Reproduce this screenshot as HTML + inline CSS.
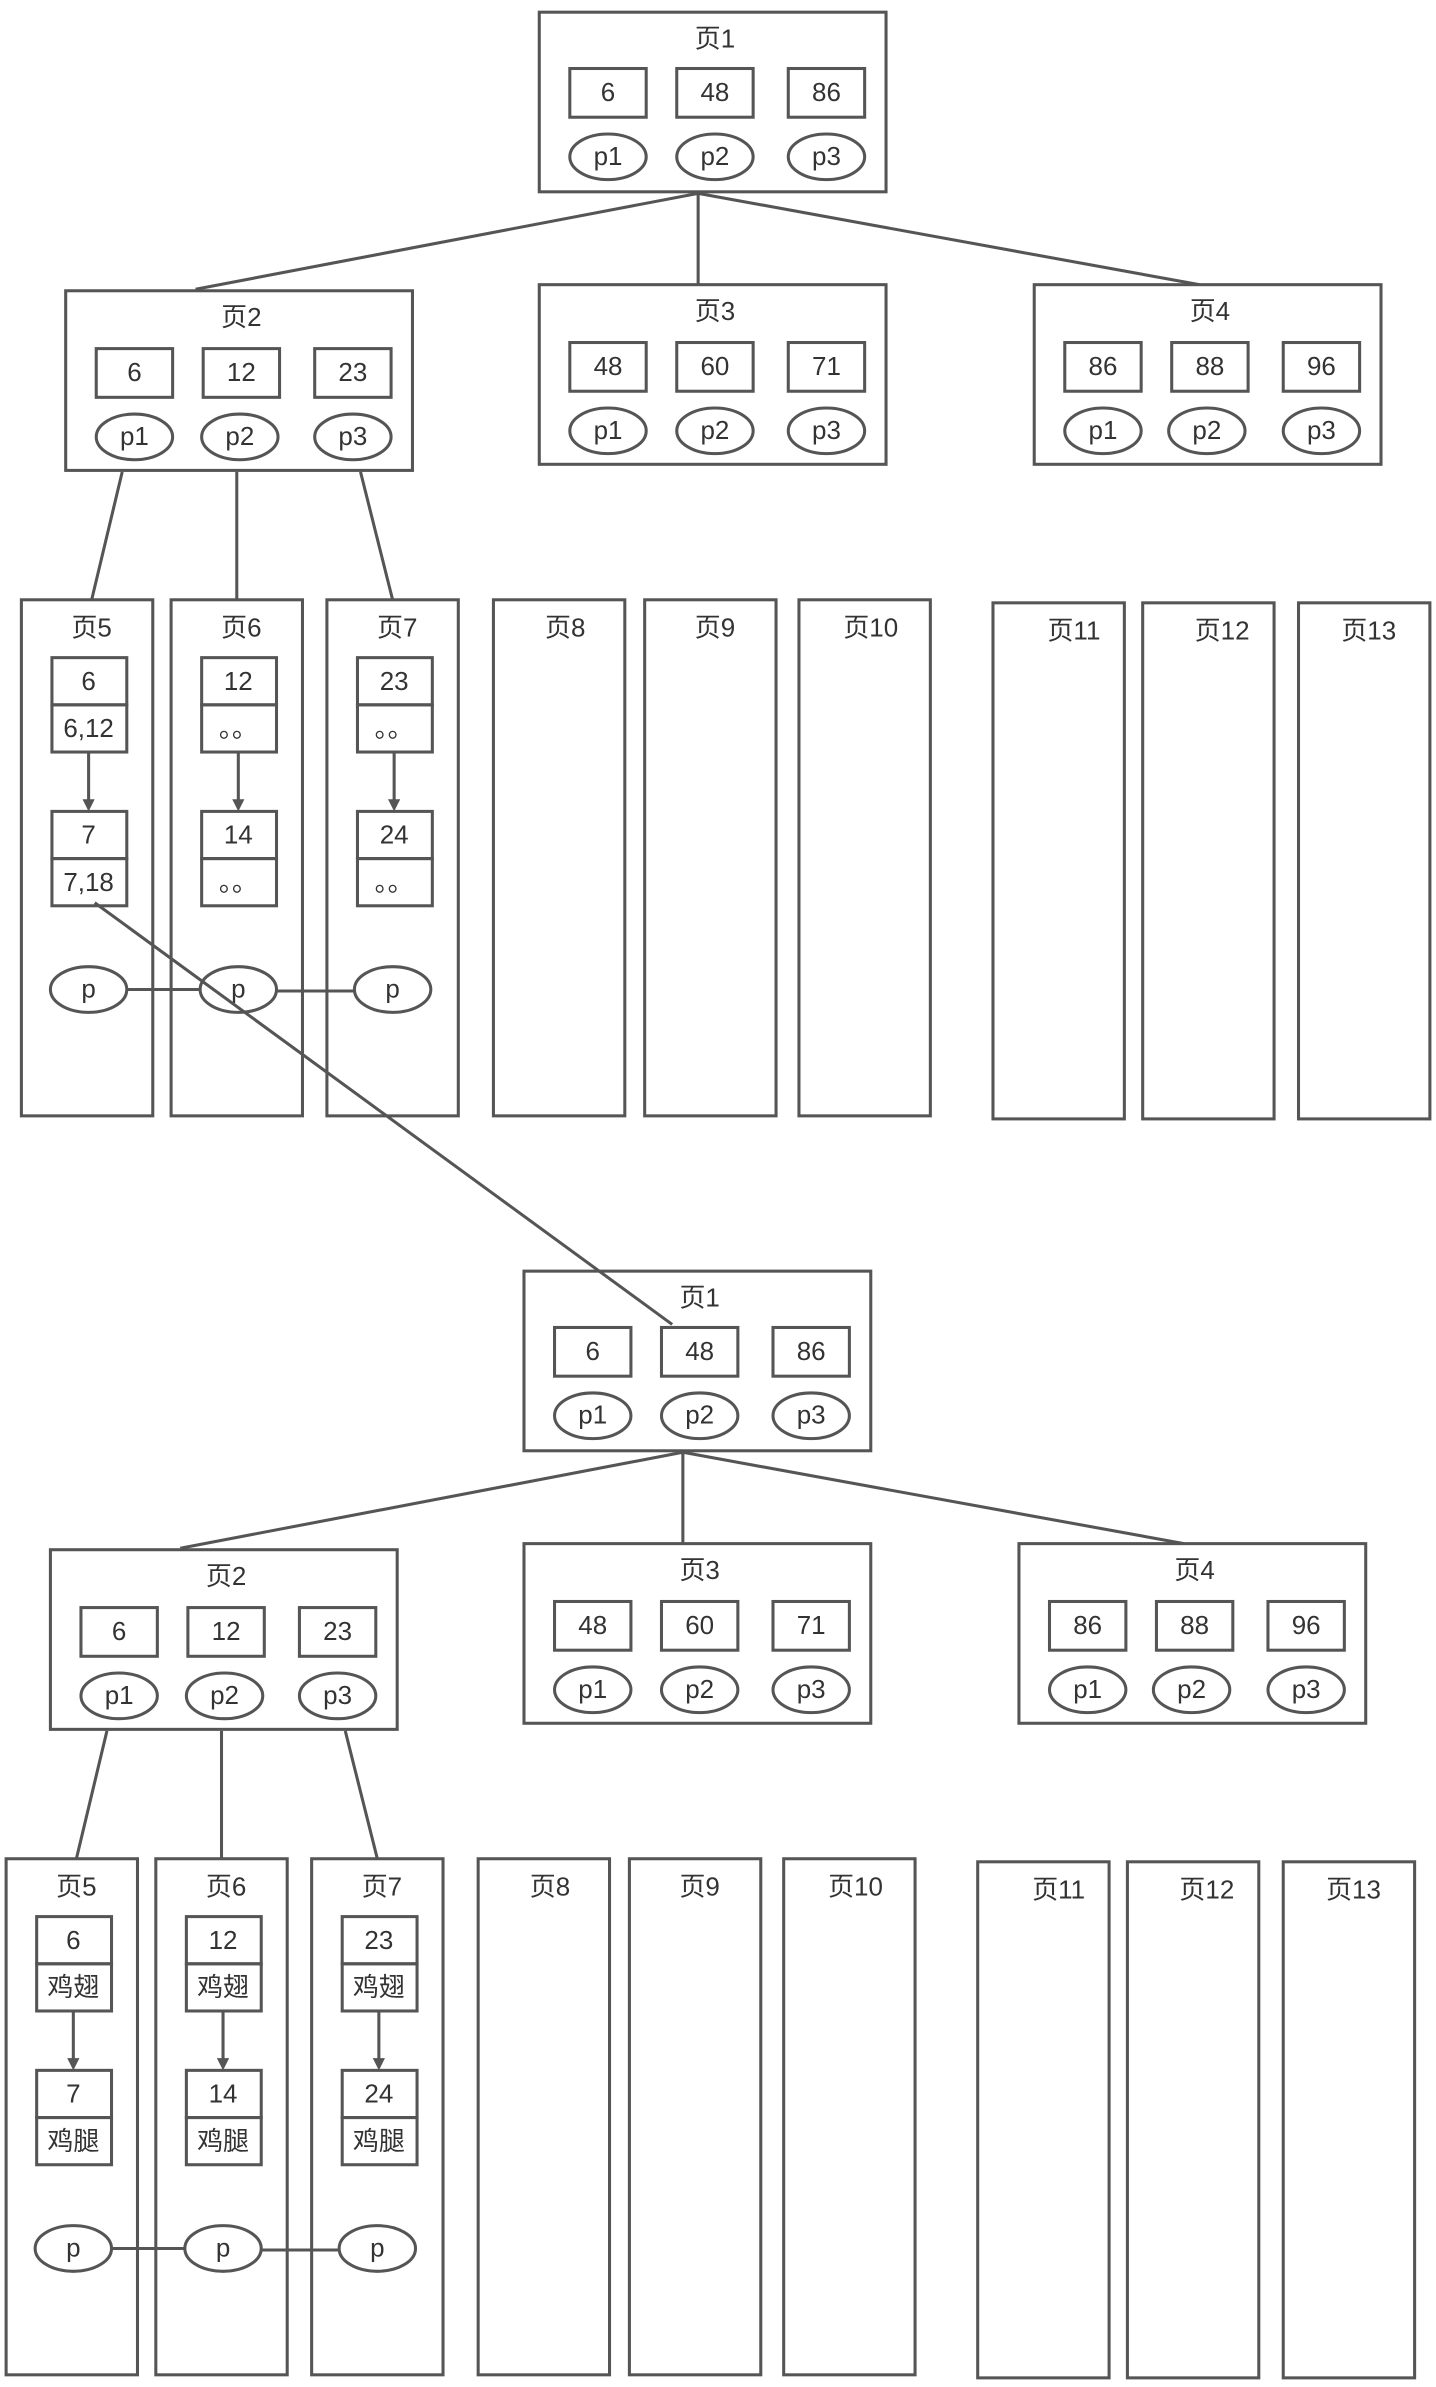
<!DOCTYPE html>
<html><head><meta charset="utf-8">
<style>
html,body{margin:0;padding:0;background:#fff;}
svg{display:block;}
text{font-family:"Liberation Sans","Noto Sans CJK SC",sans-serif;fill:#333;text-anchor:middle;dominant-baseline:central;}
</style></head><body>
<svg width="1436" height="2387" viewBox="0 0 940 1568" preserveAspectRatio="none" xmlns="http://www.w3.org/2000/svg">
<defs>
<marker id="ar" markerWidth="8" markerHeight="8" refX="6" refY="4" orient="auto" markerUnits="userSpaceOnUse">
<path d="M0,0 L8,4 L0,8 Z" fill="#555"/>
</marker>
</defs>
<g fill="none" stroke="#555" stroke-width="2" font-size="17">
<!-- TOP TREE -->
<g id="tree">
<line x1="457" y1="127" x2="128" y2="190"/>
<line x1="457" y1="127" x2="457" y2="187"/>
<line x1="457" y1="127" x2="785" y2="187"/>
<rect x="353" y="8" width="227" height="118" fill="#fff"/>
<rect x="373" y="45" width="50" height="32"/><rect x="443" y="45" width="50" height="32"/><rect x="516" y="45" width="50" height="32"/>
<ellipse cx="398" cy="103" rx="25" ry="15"/><ellipse cx="468" cy="103" rx="25" ry="15"/><ellipse cx="541" cy="103" rx="25" ry="15"/>

<rect x="43" y="191" width="227" height="118"/>
<rect x="63" y="229" width="50" height="32"/><rect x="133" y="229" width="50" height="32"/><rect x="206" y="229" width="50" height="32"/>
<ellipse cx="88" cy="287" rx="25" ry="15"/><ellipse cx="157" cy="287" rx="25" ry="15"/><ellipse cx="231" cy="287" rx="25" ry="15"/>

<rect x="353" y="187" width="227" height="118"/>
<rect x="373" y="225" width="50" height="32"/><rect x="443" y="225" width="50" height="32"/><rect x="516" y="225" width="50" height="32"/>
<ellipse cx="398" cy="283" rx="25" ry="15"/><ellipse cx="468" cy="283" rx="25" ry="15"/><ellipse cx="541" cy="283" rx="25" ry="15"/>

<rect x="677" y="187" width="227" height="118"/>
<rect x="697" y="225" width="50" height="32"/><rect x="767" y="225" width="50" height="32"/><rect x="840" y="225" width="50" height="32"/>
<ellipse cx="722" cy="283" rx="25" ry="15"/><ellipse cx="790" cy="283" rx="25" ry="15"/><ellipse cx="865" cy="283" rx="25" ry="15"/>

<line x1="80" y1="310" x2="60" y2="394"/>
<line x1="155" y1="310" x2="155" y2="394"/>
<line x1="236" y1="310" x2="257" y2="394"/>

<rect x="14" y="394" width="86" height="339"/>
<rect x="112" y="394" width="86" height="339"/>
<rect x="214" y="394" width="86" height="339"/>
<rect x="323" y="394" width="86" height="339"/>
<rect x="422" y="394" width="86" height="339"/>
<rect x="523" y="394" width="86" height="339"/>
<rect x="650" y="396" width="86" height="339"/>
<rect x="748" y="396" width="86" height="339"/>
<rect x="850" y="396" width="86" height="339"/>

<rect x="34" y="432" width="49" height="31"/><rect x="34" y="463" width="49" height="31"/>
<rect x="34" y="533" width="49" height="31"/><rect x="34" y="564" width="49" height="31"/>
<rect x="132" y="432" width="49" height="31"/><rect x="132" y="463" width="49" height="31"/>
<rect x="132" y="533" width="49" height="31"/><rect x="132" y="564" width="49" height="31"/>
<rect x="234" y="432" width="49" height="31"/><rect x="234" y="463" width="49" height="31"/>
<rect x="234" y="533" width="49" height="31"/><rect x="234" y="564" width="49" height="31"/>
<line x1="58" y1="494" x2="58" y2="531" marker-end="url(#ar)"/>
<line x1="156" y1="494" x2="156" y2="531" marker-end="url(#ar)"/>
<line x1="258" y1="494" x2="258" y2="531" marker-end="url(#ar)"/>
<ellipse cx="58" cy="650" rx="25" ry="15"/><ellipse cx="156" cy="650" rx="25" ry="15"/><ellipse cx="257" cy="650" rx="25" ry="15"/>
<line x1="83" y1="650" x2="131" y2="650"/><line x1="181" y1="651" x2="232" y2="651"/>
</g>
<g stroke="none" fill="#333">
<text x="468" y="26">页1</text>
<text x="398" y="61">6</text><text x="468" y="61">48</text><text x="541" y="61">86</text>
<text x="398" y="103">p1</text><text x="468" y="103">p2</text><text x="541" y="103">p3</text>
<text x="158" y="209">页2</text>
<text x="88" y="245">6</text><text x="158" y="245">12</text><text x="231" y="245">23</text>
<text x="88" y="287">p1</text><text x="157" y="287">p2</text><text x="231" y="287">p3</text>
<text x="468" y="205">页3</text>
<text x="398" y="241">48</text><text x="468" y="241">60</text><text x="541" y="241">71</text>
<text x="398" y="283">p1</text><text x="468" y="283">p2</text><text x="541" y="283">p3</text>
<text x="792" y="205">页4</text>
<text x="722" y="241">86</text><text x="792" y="241">88</text><text x="865" y="241">96</text>
<text x="722" y="283">p1</text><text x="790" y="283">p2</text><text x="865" y="283">p3</text>
<text x="60" y="413">页5</text><text x="158" y="413">页6</text><text x="260" y="413">页7</text>
<text x="370" y="413">页8</text><text x="468" y="413">页9</text><text x="570" y="413">页10</text>
<text x="703" y="415">页11</text><text x="800" y="415">页12</text><text x="896" y="415">页13</text>
<text x="58" y="448">6</text><text x="58" y="479">6,12</text><text x="58" y="549">7</text><text x="58" y="580">7,18</text>
<text x="156" y="448">12</text><text x="156" y="479">。。</text><text x="156" y="549">14</text><text x="156" y="580">。。</text>
<text x="258" y="448">23</text><text x="258" y="479">。。</text><text x="258" y="549">24</text><text x="258" y="580">。。</text>
<text x="58" y="650">p</text><text x="156" y="650">p</text><text x="257" y="650">p</text>
</g>

<!-- BOTTOM TREE -->
<g transform="translate(-10,827)">
<use href="#tree"/>
<g stroke="none" fill="#333">
<text x="468" y="26">页1</text>
<text x="398" y="61">6</text><text x="468" y="61">48</text><text x="541" y="61">86</text>
<text x="398" y="103">p1</text><text x="468" y="103">p2</text><text x="541" y="103">p3</text>
<text x="158" y="209">页2</text>
<text x="88" y="245">6</text><text x="158" y="245">12</text><text x="231" y="245">23</text>
<text x="88" y="287">p1</text><text x="157" y="287">p2</text><text x="231" y="287">p3</text>
<text x="468" y="205">页3</text>
<text x="398" y="241">48</text><text x="468" y="241">60</text><text x="541" y="241">71</text>
<text x="398" y="283">p1</text><text x="468" y="283">p2</text><text x="541" y="283">p3</text>
<text x="792" y="205">页4</text>
<text x="722" y="241">86</text><text x="792" y="241">88</text><text x="865" y="241">96</text>
<text x="722" y="283">p1</text><text x="790" y="283">p2</text><text x="865" y="283">p3</text>
<text x="60" y="413">页5</text><text x="158" y="413">页6</text><text x="260" y="413">页7</text>
<text x="370" y="413">页8</text><text x="468" y="413">页9</text><text x="570" y="413">页10</text>
<text x="703" y="415">页11</text><text x="800" y="415">页12</text><text x="896" y="415">页13</text>
<text x="58" y="448">6</text><text x="58" y="479">鸡翅</text><text x="58" y="549">7</text><text x="58" y="580">鸡腿</text>
<text x="156" y="448">12</text><text x="156" y="479">鸡翅</text><text x="156" y="549">14</text><text x="156" y="580">鸡腿</text>
<text x="258" y="448">23</text><text x="258" y="479">鸡翅</text><text x="258" y="549">24</text><text x="258" y="580">鸡腿</text>
<text x="58" y="650">p</text><text x="156" y="650">p</text><text x="257" y="650">p</text>
</g>
</g>

<!-- long connector -->
<line x1="62" y1="593" x2="440" y2="870"/>
</g>
</svg>
</body></html>
